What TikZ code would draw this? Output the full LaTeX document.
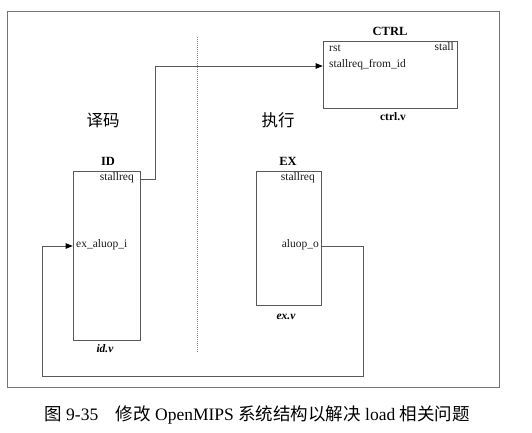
\documentclass[tikz,border=0pt]{standalone}
\usepackage{fontspec}
\setmainfont{Liberation Serif}
\newfontfamily\cjk{Noto Sans CJK SC}
\usetikzlibrary{arrows.meta}
\begin{document}
\begin{tikzpicture}[x=1pt,y=-1pt,
  wire/.style={draw=black!65, line width=0.7pt},
  module/.style={draw=black!65, line width=0.7pt, inner sep=0pt},
  port/.style={inner sep=0pt, font=\fontsize{11.5}{12}\selectfont, text=black!90},
  title/.style={inner sep=0pt, font=\fontsize{12.5}{13}\selectfont\bfseries},
  fname/.style={inner sep=0pt, font=\fontsize{11.5}{12}\selectfont\bfseries},
  stage/.style={inner sep=0pt, font=\fontsize{16.5}{17}\selectfont\cjk},
  tip/.style={-{Triangle[length=7pt,width=5.5pt,color=black]}}]
\useasboundingbox (0,0) rectangle (532,433);

% enclosing frame
\draw[draw=black!55, line width=0.8pt] (7,11) rectangle (499,387);

% stage separator
\draw[draw=black!45, line width=0.6pt, dash pattern=on 1pt off 1pt] (197,37) -- (197,352);
\node[stage] (dec) at (103,120) {译码};
\node[stage] (exe) at (278,120) {执行};

% modules
\node[module, minimum width=134pt, minimum height=67pt] (CTRL) at (390,74.5) {};
\node[module, minimum width=67pt, minimum height=169pt] (ID) at (106.5,255.5) {};
\node[module, minimum width=65pt, minimum height=134pt] (EX) at (288.5,238) {};

% module titles and file names
\node[title] (ctrlt) at (390,31) {CTRL};
\node[fname] (ctrlf) at (393,117) {ctrl.v};
\node[title] (idt) at (108,161) {ID};
\node[fname, font=\fontsize{11.5}{12}\selectfont\bfseries\itshape] (idf) at (105,349) {id.v};
\node[title] (ext) at (288,161) {EX};
\node[fname, font=\fontsize{11.5}{12}\selectfont\bfseries\itshape] (exf) at (286,317) {ex.v};

% ports
\node[port, anchor=mid west] (crst) at (329,49) {rst};
\node[port, anchor=mid east] (cstall) at (454,48) {stall};
\node[port, anchor=mid west] (csreq) at (329,65) {stallreq\_from\_id};
\node[port, anchor=mid east] (idsreq) at (134,178) {stallreq};
\node[port, anchor=mid west] (idex) at (76,245) {ex\_aluop\_i};
\node[port, anchor=mid east] (exsreq) at (315,178) {stallreq};
\node[port, anchor=mid east] (exalu) at (319,245) {aluop\_o};

% connections
\coordinate (jog) at (155,66);
\coordinate (fbR) at (363,376);
\coordinate (fbL) at (42,376);
\draw[wire, tip] (ID.east |- 0,179) -| (jog) -- (CTRL.west |- 0,66);
\draw[wire, tip] (EX.east |- 0,246) -| (fbR) -- (fbL) |- (ID.west |- 0,246);

% caption
\node[inner sep=0pt, font=\fontsize{17.5}{18}\selectfont] (cap) at (257,415)
  {{\cjk 图} 9-35\quad{\cjk 修改} OpenMIPS {\cjk 系统结构以解决} load {\cjk 相关问题}};
\end{tikzpicture}
\end{document}
